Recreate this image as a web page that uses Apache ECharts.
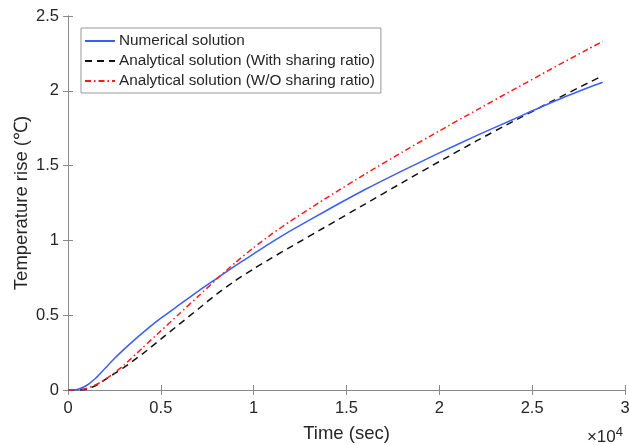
<!DOCTYPE html>
<html>
<head>
<meta charset="utf-8">
<script src="https://cdn.jsdelivr.net/npm/echarts@6/dist/echarts.min.js"></script>
<style>
  html, body { margin: 0; padding: 0; background: #fff; }
  #chart { width: 629px; height: 445px; }
</style>
</head>
<body>
<div id="chart"></div>
<script>
// time in sec, curves
var timeSec = [0, 500, 1000, 1500, 2000, 2500, 3000, 4000, 5000, 6000, 7000, 8000, 9000, 10000, 11000, 12000, 14000, 16000, 18000, 20000, 22000, 24000, 26000, 28000, 28800];
var numerical = [0, 0.003, 0.03, 0.08, 0.145, 0.21, 0.27, 0.38, 0.48, 0.57, 0.66, 0.745, 0.83, 0.91, 0.99, 1.065, 1.205, 1.34, 1.465, 1.585, 1.70, 1.81, 1.92, 2.02, 2.057];
var withRatio = [0, 0, 0.005, 0.03, 0.07, 0.11, 0.15, 0.24, 0.34, 0.44, 0.54, 0.64, 0.73, 0.81, 0.885, 0.957, 1.10, 1.243, 1.386, 1.527, 1.665, 1.797, 1.926, 2.052, 2.10];
var withoutRatio = [0, 0, 0.01, 0.035, 0.07, 0.115, 0.165, 0.28, 0.395, 0.51, 0.625, 0.74, 0.85, 0.952, 1.045, 1.13, 1.29, 1.443, 1.59, 1.732, 1.871, 2.008, 2.144, 2.278, 2.33];
var seriesNames = ['Numerical solution', 'Analytical solution (With sharing ratio)', 'Analytical solution (W/O sharing ratio)'];

function pairs(ys) {
    return timeSec.map(function (t, i) { return [t, ys[i]]; });
}

var axisColor = '#8a8a8a';
var labelColor = '#262626';

var chart = echarts.init(document.getElementById('chart'));
chart.setOption({
    animation: false,
    backgroundColor: '#fff',
    textStyle: { fontFamily: 'Liberation Sans, Arial, sans-serif' },
    grid: { left: 68, right: 4, top: 16, bottom: 55, containLabel: false, outerBoundsMode: 'none' },
    legend: {
        left: 81, top: 28,
        orient: 'vertical',
        backgroundColor: '#fff',
        borderColor: '#999',
        borderWidth: 1,
        padding: [4, 6, 3, 3],
        itemGap: 2,
        itemWidth: 30,
        itemHeight: 18,
        itemStyle: { opacity: 0 },
        textStyle: { fontSize: 15.3, color: labelColor, lineHeight: 18, padding: [0, 0, 0, -1] },
        data: seriesNames
    },
    xAxis: [{
        type: 'value', min: 0, max: 30000, interval: 5000,
        name: 'Time (sec)', nameLocation: 'middle', nameGap: 34,
        nameTextStyle: { fontSize: 18.5, color: labelColor },
        axisLine: { lineStyle: { color: axisColor } },
        axisTick: { inside: true, length: 5, lineStyle: { color: axisColor } },
        axisLabel: { fontSize: 16.5, color: labelColor, margin: 10,
            formatter: function (v) { return String(v / 10000); } },
        splitLine: { show: false }
    }, {
        type: 'value', min: 0, max: 30000, interval: 5000, position: 'top',
        axisLine: { lineStyle: { color: axisColor } },
        axisTick: { inside: true, length: 5, lineStyle: { color: axisColor } },
        axisLabel: { show: false },
        splitLine: { show: false }
    }],
    yAxis: [{
        type: 'value', min: 0, max: 2.5, interval: 0.5,
        name: 'Temperature rise (℃)', nameLocation: 'middle', nameGap: 37,
        nameMoveOverlap: false,
        nameTextStyle: { fontSize: 18.5, color: labelColor },
        axisLine: { show: true, lineStyle: { color: axisColor } },
        axisTick: { show: true, inside: true, length: 5, lineStyle: { color: axisColor } },
        axisLabel: { fontSize: 16.5, color: labelColor, margin: 9 },
        splitLine: { show: false }
    }, {
        type: 'value', min: 0, max: 2.5, interval: 0.5, position: 'right',
        axisLine: { show: true, lineStyle: { color: axisColor } },
        axisTick: { show: true, inside: true, length: 5, lineStyle: { color: axisColor } },
        axisLabel: { show: false },
        splitLine: { show: false }
    }],
    graphic: [{
        type: 'text', right: 6, top: 426,
        style: {
            text: '×10{s|4}',
            font: '17px Liberation Sans, Arial, sans-serif',
            fill: labelColor,
            rich: { s: { fontSize: 13, verticalAlign: 'top', padding: [0, 0, 9, 0] } }
        }
    }],
    series: [{
        name: seriesNames[0], type: 'line', symbol: 'none', smooth: 0.2,
        data: pairs(numerical),
        itemStyle: { color: '#3c5ef5' },
        lineStyle: { color: '#3c5ef5', width: 1.5 },
        z: 3
    }, {
        name: seriesNames[1], type: 'line', symbol: 'none', smooth: 0.2,
        data: pairs(withRatio),
        itemStyle: { color: '#111' },
        lineStyle: { color: '#111', width: 1.5, type: [7, 5] },
        z: 2
    }, {
        name: seriesNames[2], type: 'line', symbol: 'none', smooth: 0.2,
        data: pairs(withoutRatio),
        itemStyle: { color: '#ff1a1a' },
        lineStyle: { color: '#ff1a1a', width: 1.5, type: [6, 3, 1.5, 3] },
        z: 4
    }]
});
</script>
</body>
</html>
